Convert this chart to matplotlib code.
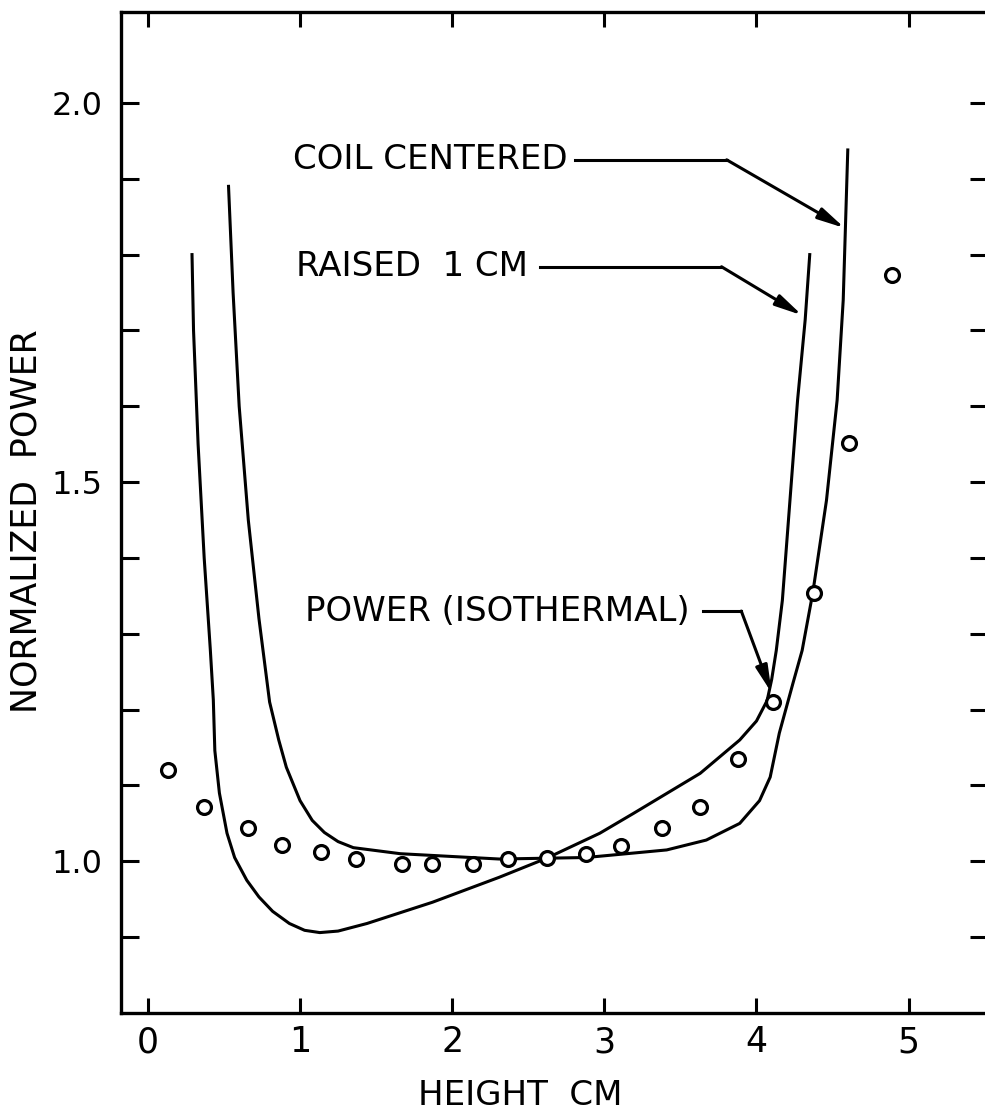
"""Normalized power vs height: coil centered / raised 1 cm / isothermal points."""
import numpy as np
import matplotlib; matplotlib.use('Agg'); import matplotlib.pyplot as plt

plt.rcParams.update({'font.family': 'DejaVu Sans', 'font.size': 24})
INK = '#000000'

# ---- data ----
coil_x = [0.53, 0.56, 0.60, 0.66, 0.73, 0.80, 0.86, 0.91, 1.00, 1.08, 1.16, 1.25, 1.35, 1.66, 2.31, 2.88, 3.41,
          3.67, 3.89, 4.02, 4.09, 4.15, 4.24, 4.30, 4.37, 4.46, 4.53, 4.57, 4.60]
coil_y = [1.89, 1.75, 1.60, 1.45, 1.32, 1.21, 1.16, 1.124, 1.08, 1.054, 1.038, 1.026, 1.018, 1.010, 1.003, 1.005, 1.015,
          1.028, 1.050, 1.080, 1.111, 1.169, 1.235, 1.278, 1.354, 1.476, 1.608, 1.74, 1.938]
raised_x = [0.29, 0.30, 0.33, 0.37, 0.41, 0.43, 0.44, 0.47, 0.52, 0.57, 0.65, 0.73, 0.82, 0.93, 1.03, 1.13, 1.25,
            1.44, 1.87, 2.31, 2.62, 2.97, 3.19, 3.63, 3.89, 4.00, 4.07, 4.10, 4.13, 4.17, 4.22, 4.27, 4.32, 4.35]
raised_y = [1.80, 1.70, 1.55, 1.40, 1.28, 1.213, 1.146, 1.09, 1.037, 1.005, 0.975, 0.953, 0.934, 0.918, 0.909, 0.906,
            0.908, 0.918, 0.946, 0.979, 1.004, 1.037, 1.063, 1.116, 1.160, 1.185, 1.212, 1.240, 1.278, 1.344, 1.476,
            1.608, 1.714, 1.80]
iso_x = [0.13, 0.37, 0.66, 0.88, 1.14, 1.37, 1.67, 1.87, 2.14, 2.37, 2.62, 2.88, 3.11, 3.38, 3.63, 3.88,
         4.11, 4.38, 4.61, 4.89]
iso_y = [1.120, 1.071, 1.044, 1.021, 1.012, 1.003, 0.997, 0.997, 0.997, 1.003, 1.005, 1.010, 1.020, 1.044, 1.071, 1.135,
         1.210, 1.354, 1.551, 1.773]
xticks = [0, 1, 2, 3, 4, 5]
yticks = [0.9, 1.0, 1.1, 1.2, 1.3, 1.4, 1.5, 1.6, 1.7, 1.8, 1.9, 2.0]
ylabels = {1.0: '1.0', 1.5: '1.5', 2.0: '2.0'}

fig = plt.figure(figsize=(9.85, 11.15), dpi=100)
ax = fig.add_axes([0.1228, 0.0915, 0.880, 0.8978])
ax.set_xlim(-0.177, 5.52); ax.set_ylim(0.8, 2.12)

ax.plot(coil_x, coil_y, color=INK, lw=2.2)
ax.plot(raised_x, raised_y, color=INK, lw=2.2)
ax.plot(iso_x, iso_y, 'o', ms=10, mfc='white', mec=INK, mew=2.3, zorder=4)

for s in ax.spines.values(): s.set_linewidth(2.4)
ax.spines['right'].set_visible(False)
ax.set_xticks(xticks); ax.set_xticklabels([str(v) for v in xticks])
ax.set_yticks(yticks); ax.set_yticklabels([ylabels.get(round(v, 1), '') for v in yticks])
ax.tick_params(axis='x', direction='in', length=11, width=2.2, top=True, pad=9, labelsize=25)
ax.tick_params(axis='y', direction='in', length=13, width=2.2, right=True, pad=13, labelsize=23)

ax.set_xlabel('HEIGHT  CM', fontsize=24.5)
ax.xaxis.set_label_coords(0.461, -0.082); ax.xaxis.label.set_va('center')
ax.set_ylabel('NORMALIZED  POWER', fontsize=25)
ax.yaxis.set_label_coords(-0.109, 0.491); ax.yaxis.label.set_va('center')

# labels with elbow leader arrows
notes = [('COIL CENTERED', 0.953, 1.925, 2.805, 3.804, (4.58, 1.835)),
         ('RAISED  1 CM', 0.972, 1.784, 2.58, 3.77, (4.30, 1.72)),
         ('POWER (ISOTHERMAL)', 1.03, 1.33, 3.65, 3.90, (4.10, 1.222))]
for txt, tx, ty, l0, l1, tip in notes:
    ax.text(tx, ty, txt, fontsize=24.5, ha='left', va='center')
    ax.plot([l0, l1], [ty, ty], color=INK, lw=2.2)
    ax.annotate('', xy=tip, xytext=(l1, ty),
                arrowprops=dict(arrowstyle='-|>,head_length=0.9,head_width=0.2', color=INK, lw=2.2,
                                mutation_scale=18, shrinkA=0, shrinkB=0))

fig.savefig('out.png', dpi=100)
